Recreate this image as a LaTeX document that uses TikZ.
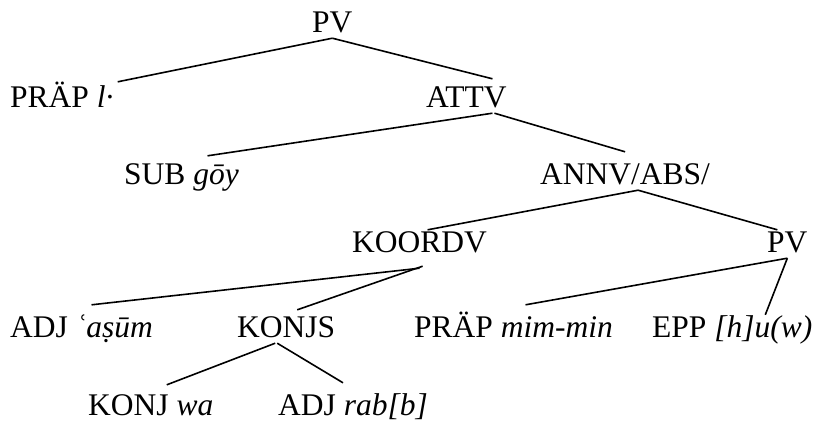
\documentclass[tikz,border=0pt]{standalone}
\usepackage{fontspec}
\setmainfont{Liberation Serif}
\newfontfamily\treefont{Liberation Serif}
\usetikzlibrary{calc,positioning}

\begin{document}
\begin{tikzpicture}[x=1pt,y=-1pt,
				cat/.style={anchor=base west,inner sep=0pt,text height=22pt,text depth=6pt,font=\treefont\fontsize{31.5}{36}\selectfont},
				branch/.style={line width=1.6pt}]
								\useasboundingbox (0,0) rectangle (821,421);

								\node[cat] (pvtop) at (312,32) {PV};
								\node[cat] (praepl) at (10,107) {PRÄP \textit{l·}};
								\node[cat] (attv) at (426,107) {ATTV};
								\node[cat] (sub) at (124,184) {SUB \textit{gōy}};
								\node[cat] (annv) at (540,184) {ANNV/ABS/};
								\node[cat] (koordv) at (352,252) {KOORDV};
								\node[cat] (pvlow) at (767,252) {PV};
								\node[cat] (adja) at (10,337) {ADJ \textit{ʿaṣūm}};
								\node[cat] (konjs) at (237,337) {KONJS};
								\node[cat] (praepm) at (414,337) {PRÄP \textit{mim-min}};
								\node[cat] (epp) at (652,337) {EPP \textit{[h]u(w)}};
								\node[cat] (konj) at (88,415) {KONJ \textit{wa}};
								\node[cat] (adjr) at (278,415) {ADJ \textit{rab[b]}};

								\draw[branch] (pvtop.south) -- ([shift={(4pt,3pt)}]praepl.north east);
								\draw[branch] (pvtop.south) -- ([xshift=26pt,yshift=6pt]attv.north);

								\draw[branch] ([xshift=26pt]attv.south) -- ([xshift=26pt,yshift=6pt]sub.north);
								\draw[branch] ([xshift=28pt]attv.south) -- ([yshift=10pt]annv.north);

								\draw[branch] ([xshift=13pt]annv.south) -- ([xshift=8pt]koordv.north);
								\draw[branch] ([xshift=13pt]annv.south) -- ([xshift=-10pt]pvlow.north);

								\draw[branch] ([yshift=-10pt]koordv.south) -- ([xshift=10pt,yshift=10pt]adja.north);
								\draw[branch] ([xshift=3pt,yshift=-8pt]koordv.south) -- ([xshift=11pt,yshift=5pt]konjs.north);

								\draw[branch] (pvlow.south) -- ([xshift=12pt,yshift=10pt]praepm.north);
								\draw[branch] (pvlow.south) -- ([xshift=33pt]epp.north);

								\draw[branch] ([xshift=-11pt]konjs.south) -- ([xshift=16pt,yshift=8pt]konj.north);
								\draw[branch] ([xshift=-9pt]konjs.south) -- ([xshift=-10pt,yshift=10pt]adjr.north);
\end{tikzpicture}
\end{document}
